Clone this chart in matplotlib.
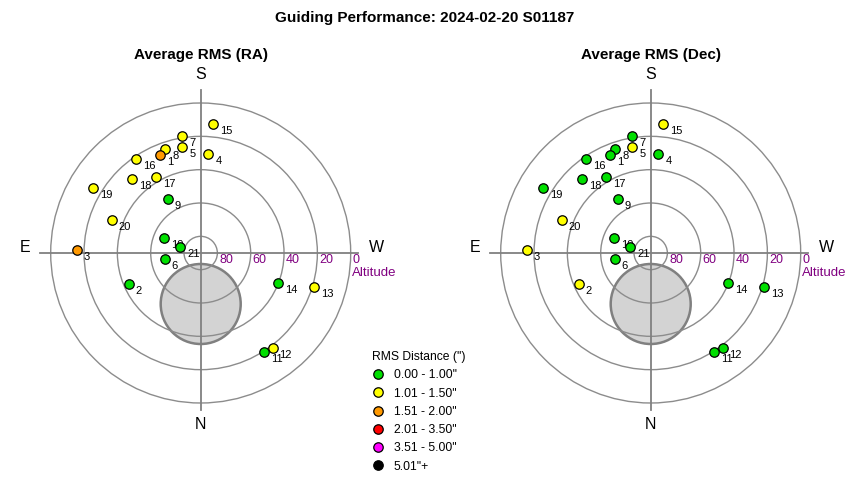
import numpy as np
import matplotlib.pyplot as plt
from matplotlib.patches import Circle
from matplotlib.lines import Line2D

plt.rcParams['font.family'] = ['Liberation Sans', 'DejaVu Sans']

# guide star positions (degrees), one per exposure
point_ids = list(range(1, 22))
altitude = [26.6, 43.0, 15.8, 30.4, 25.6, 68.2, 19.1, 24.1, 52.1, 66.2, 19.2,
            18.4, 18.7, 40.0, 12.4, 21.8, 37.3, 29.7, 14.6, 33.2, 77.3]
azimuth = [157.6, 66.7, 91.2, 184.4, 170.2, 80.0, 171.1, 161.3, 148.8, 112.2, 327.3,
           323.0, 286.8, 291.3, 185.5, 145.5, 149.4, 137.2, 121.0, 110.4, 106.5]

# RMS class of each point (index into rms_labels)
ra_class = [2, 0, 2, 1, 1, 0, 1, 1, 0, 0, 0, 1, 1, 0, 1, 1, 1, 1, 1, 1, 0]
dec_class = [0, 1, 1, 0, 1, 0, 0, 0, 0, 0, 0, 0, 0, 0, 1, 0, 0, 0, 0, 1, 0]

rms_labels = ['0.00 - 1.00"', '1.01 - 1.50"', '1.51 - 2.00"',
              '2.01 - 3.50"', '3.51 - 5.00"', '5.01"+']
rms_colors = ['#00e000', '#ffff00', '#ff9900', '#ff0000', '#ff00ff', '#000000']

alt_rings = [80, 60, 40, 20, 0]

# region near the pole that is not reachable
pole_alt = 59.4
pole_radius = 24

W, H = 850, 480
PX = 150 / 90.0   # pixels per degree
CY = 253


def to_xy(alt, az):
    r = 90 - np.asarray(alt)
    a = np.radians(np.asarray(az))
    return -r * np.sin(a), -r * np.cos(a)


def panel(cx, title, classes):
    R = 110
    size = 2 * R * PX
    ax = fig.add_axes([(cx - R * PX) / W, (H - CY - R * PX) / H, size / W, size / H])
    ax.set_xlim(-R, R)
    ax.set_ylim(-R, R)
    ax.set_aspect('equal')
    ax.axis('off')

    ax.add_patch(Circle((0, -(90 - pole_alt)), pole_radius, fc='#d3d3d3',
                        ec='#808080', lw=1.8, zorder=1))
    for alt in alt_rings:
        ax.add_patch(Circle((0, 0), 90 - alt, fill=False, ec='#8c8c8c', lw=1, zorder=2))
        ax.text(90 - alt + 1.2, -0.6, str(alt), color='#800080', fontsize=9,
                ha='left', va='top')
    ax.plot([-96.6, 94.2], [0, 0], color='#808080', lw=1.3, zorder=2)
    ax.plot([0, 0], [-94.2, 97.8], color='#808080', lw=1.3, zorder=2)

    ax.text(90.6, -12, 'Altitude', color='#800080', fontsize=9.5, ha='left',
            va='center', clip_on=False)
    ax.text(0, 107, 'S', fontsize=11.5, ha='center', va='center')
    ax.text(0, -103, 'N', fontsize=11.5, ha='center', va='center')
    ax.text(-105.6, 3, 'E', fontsize=11.5, ha='center', va='center')
    ax.text(105.5, 3, 'W', fontsize=11.5, ha='center', va='center', clip_on=False)
    ax.text(0, 118.5, title, fontsize=11, fontweight='bold', ha='center',
            va='center', clip_on=False)

    xs, ys = to_xy(altitude, azimuth)
    for i in range(len(point_ids)):
        ax.annotate(str(point_ids[i]), (xs[i], ys[i]), xytext=(5, -5),
                    textcoords='offset points', fontsize=8, ha='left',
                    va='center', zorder=3)
    for i in reversed(range(len(point_ids))):
        ax.plot(xs[i], ys[i], 'o', ms=6.8, mfc=rms_colors[classes[i]],
                mec='black', mew=0.9, zorder=4)
    return ax


fig = plt.figure(figsize=(W / 100, H / 100), dpi=100)
fig.text(0.5, 1 - 18 / H, 'Guiding Performance: 2024-02-20 S01187', fontsize=11,
         fontweight='bold', ha='center', va='center')

panel(200.7, 'Average RMS (RA)', ra_class)
panel(650.7, 'Average RMS (Dec)', dec_class)

handles = [Line2D([], [], ls='', marker='o', ms=6.8, mfc=c, mec='black', mew=0.9)
           for c in rms_colors]
fig.legend(handles, rms_labels, title='RMS Distance (")', loc='upper left',
           bbox_to_anchor=(372 / W, 1 - 351 / H), frameon=False, fontsize=8.7,
           title_fontsize=8.7, alignment='left', borderpad=0, handlelength=1.0,
           handletextpad=0.8, labelspacing=0.52, borderaxespad=0)

fig.savefig('out.png', dpi=100)
